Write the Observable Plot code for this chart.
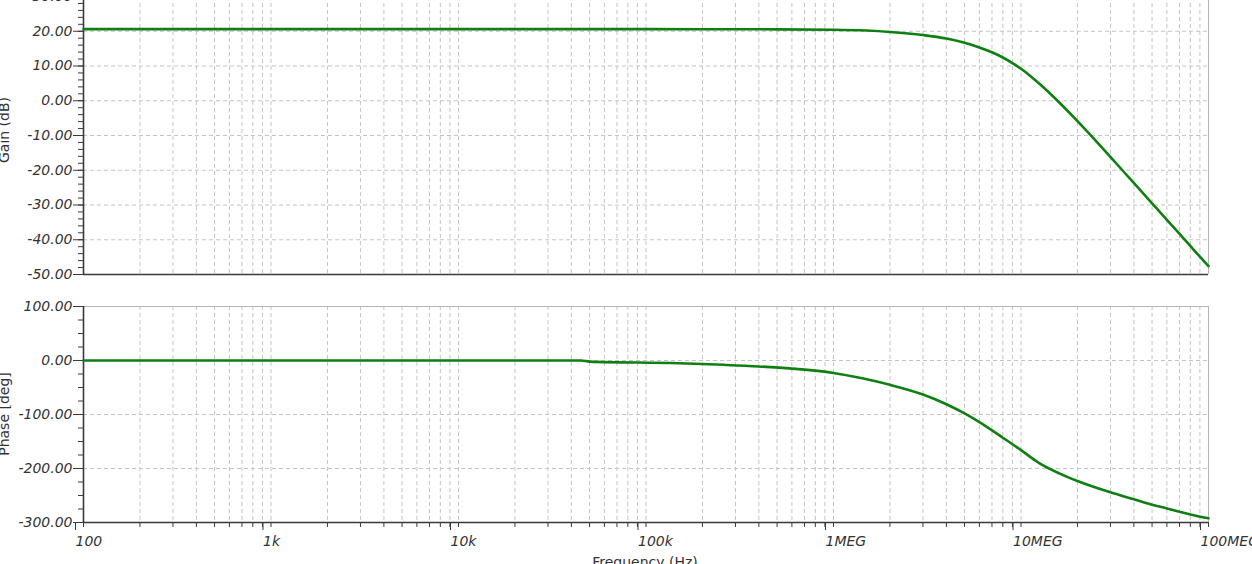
<!DOCTYPE html>
<html><head><meta charset="utf-8">
<script src="https://cdn.jsdelivr.net/npm/d3@7"></script>
<script src="https://cdn.jsdelivr.net/npm/@observablehq/plot@0.6"></script>
<style>
html,body{margin:0;padding:0;background:#fff;}
#wrap{position:relative;width:1252px;height:564px;overflow:hidden;background:#fff;}
#top{position:absolute;left:0;top:-14px;}
#bot{position:absolute;left:0;top:290px;}
</style></head>
<body><div id="wrap"><div id="top"></div><div id="bot"></div></div>
<script>
// ---- data ----
const freqGain = [100, 1e3, 1e4, 1e5, 5e5, 1e6, 1.5e6, 2e6, 3e6, 4e6, 5e6, 6e6, 7e6, 8e6, 9e6, 1e7, 1.1e7, 1.25e7, 1.6e7, 2e7, 2.6e7, 3.8e7, 5e7, 6e7, 7.2e7, 8.5e7, 1e8];
const gainDb   = [20.6, 20.6, 20.6, 20.6, 20.55, 20.45, 20.2, 19.8, 18.9, 17.9, 16.7, 15.35, 13.95, 12.45, 10.85, 9.2, 7.5, 4.95, -0.5, -5.85, -12.45, -22.35, -29.5, -34.3, -39.0, -43.4, -47.6];
const freqPhase = [100, 1e3, 1e4, 4.5e4, 5e4, 1.5e5, 2.6e5, 4e5, 6e5, 1e6, 1.4e6, 2e6, 3e6, 4e6, 5e6, 6e6, 8e6, 1e7, 1.25e7, 1.6e7, 2e7, 3e7, 4e7, 5e7, 6e7, 7e7, 8e7, 1e8];
const phaseDeg  = [0, 0, 0, 0, -2, -5, -8, -11, -15, -23, -32.5, -45, -63, -81, -98, -114, -143, -166, -190, -209, -223, -244, -257, -267, -274, -280, -285, -292];
const decadeTicks  = [1e2, 1e3, 1e4, 1e5, 1e6, 1e7, 1e8];
const decadeLabels = ["100", "1k", "10k", "100k", "1MEG", "10MEG", "100MEG"];
const gainTicks  = [-50, -40, -30, -20, -10, 0, 10, 20, 30];
const phaseTicks = [-300, -200, -100, 0, 100];
const gainTitle = "Gain (dB)";
const phaseTitle = "Phase [deg]";
const freqTitle = "Frequency (Hz)";

// ---- derived helpers ----
const gainData = freqGain.map((f, i) => ({f, v: gainDb[i]}));
const phaseData = freqPhase.map((f, i) => ({f, v: phaseDeg[i]}));
const gridX = [];
for (let d = 0; d < decadeTicks.length - 1; d++) for (let m = 1; m <= 9; m++) gridX.push(decadeTicks[d] * m);
gridX.push(1e8);
const gainMinor = d3.range(-50, 31, 2);
const phaseMinor = d3.range(-300, 101, 25);

const W = 1252, ML = 83, MR = 44;
const GREEN = "#0f7f12", AXIS = "#3a3a3a", GRID = "#c4c4c4", BORDER = "#b4b4b4";
const dash = {stroke: GRID, strokeDasharray: "4,3", strokeWidth: 1};
const style = {fontFamily: "DejaVu Sans", fontSize: "14px", fontStyle: "italic", color: "#333", background: "white", overflow: "visible"};
const fmt2 = d => d.toFixed(2);

const topPlot = Plot.plot({
  width: W, height: 302, marginLeft: ML, marginRight: MR, marginTop: 10, marginBottom: 14,
  style,
  x: {type: "log", domain: [100, 1e8], axis: null},
  y: {domain: [-50, 30]},
  marks: [
    Plot.ruleX(gridX.slice(1, -1), dash),
    Plot.ruleY(gainTicks.filter(v => v > -50), dash),
    Plot.ruleX([1e8], {stroke: BORDER}),
    Plot.axisY({ticks: gainMinor, tickSize: 5, fill: "none", stroke: AXIS, label: null}),
    Plot.axisY({ticks: gainTicks, tickSize: 10, tickPadding: 1, tickFormat: fmt2, stroke: AXIS, fill: "#333", label: null}),
    Plot.ruleY([-50], {stroke: AXIS, strokeWidth: 1.6}),
    Plot.ruleX([100], {stroke: AXIS, strokeWidth: 1.6}),
    Plot.line(gainData, {x: "f", y: "v", stroke: GREEN, strokeWidth: 2.6, curve: "monotone-x"})
  ]
});

const botPlot = Plot.plot({
  width: W, height: 290, marginLeft: ML, marginRight: MR, marginTop: 16, marginBottom: 58,
  style,
  x: {type: "log", domain: [100, 1e8]},
  y: {domain: [-300, 100]},
  marks: [
    Plot.ruleX(gridX.slice(1, -1), dash),
    Plot.ruleY(phaseTicks.filter(v => v > -300 && v < 100), dash),
    Plot.ruleY([100], {stroke: BORDER}),
    Plot.ruleX([1e8], {stroke: BORDER}),
    Plot.axisY({ticks: phaseMinor, tickSize: 5, fill: "none", stroke: AXIS, label: null}),
    Plot.axisY({ticks: phaseTicks, tickSize: 10, tickPadding: 1, tickFormat: fmt2, stroke: AXIS, fill: "#333", label: null}),
    Plot.axisX({ticks: gridX, tickSize: 5, fill: "none", stroke: AXIS, label: null}),
    Plot.axisX({ticks: decadeTicks, tickSize: 8, tickPadding: 6, textAnchor: "start", dx: -8,
      tickFormat: d => decadeLabels[decadeTicks.indexOf(d)], stroke: AXIS, fill: "#333", label: null}),
    Plot.ruleY([-300], {stroke: AXIS, strokeWidth: 1.6}),
    Plot.ruleX([100], {stroke: AXIS, strokeWidth: 1.6}),
    Plot.line(phaseData, {x: "f", y: "v", stroke: GREEN, strokeWidth: 2.6, curve: "monotone-x"})
  ]
});

document.getElementById("top").appendChild(topPlot);
document.getElementById("bot").appendChild(botPlot);

function title(svg, txt, x, y, rot) {
  d3.select(svg).append("text")
    .attr("transform", `translate(${x},${y})` + (rot ? " rotate(-90)" : ""))
    .attr("text-anchor", "middle")
    .attr("font-family", "DejaVu Sans")
    .attr("font-style", "normal")
    .attr("font-size", 14)
    .attr("fill", "#333")
    .text(txt);
}
title(topPlot, gainTitle, 9, 144, true);
title(botPlot, phaseTitle, 9, 124, true);
title(botPlot, freqTitle, 645, 277, false);
</script>
</body></html>
